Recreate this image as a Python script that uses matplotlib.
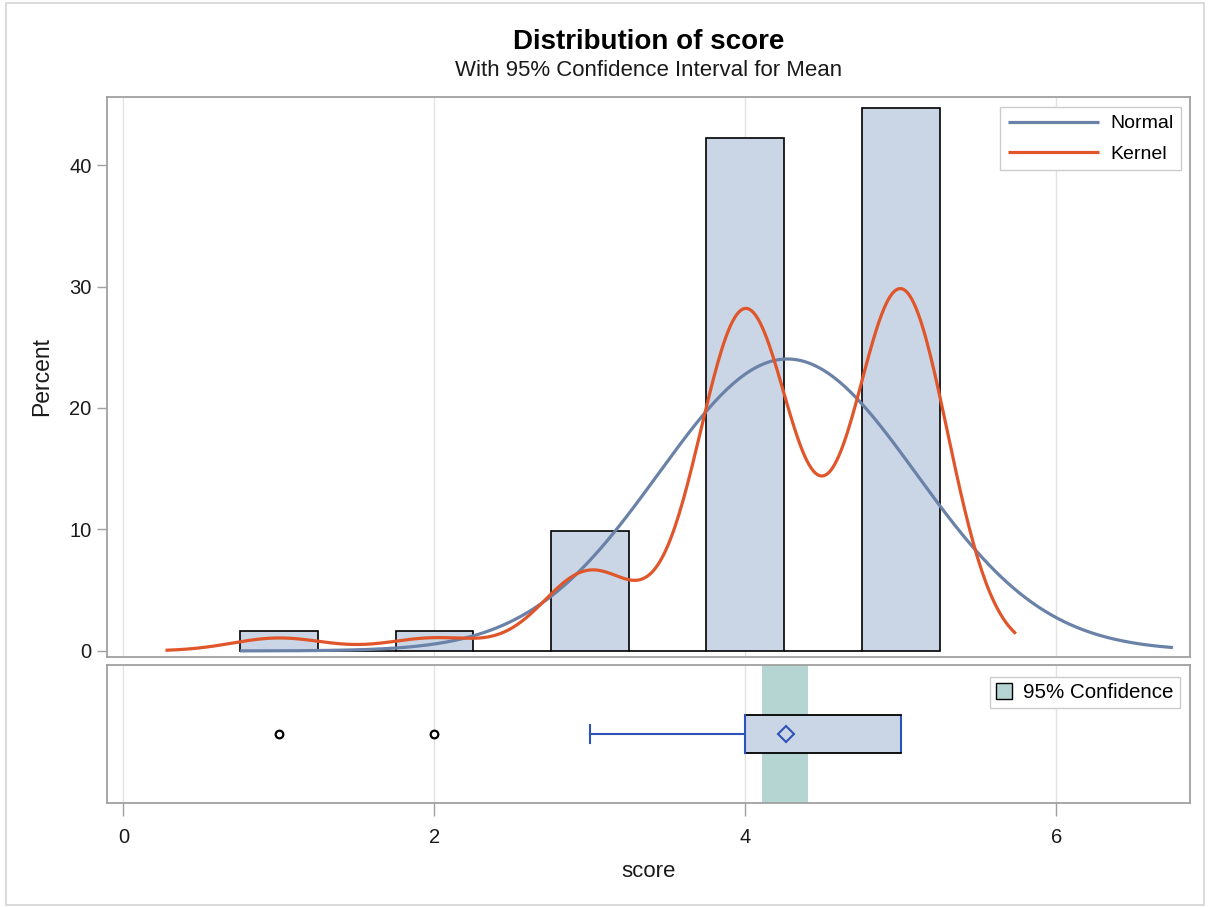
import matplotlib
matplotlib.use("Agg")
import matplotlib.pyplot as plt
from matplotlib.patches import Patch, Rectangle
import numpy as np

plt.rcParams["font.family"] = ["Liberation Sans", "DejaVu Sans"]

# histogram bins (width 0.5, centred on the scores; in-between bins are empty)
BIN_MIDPOINTS = [1.0, 1.5, 2.0, 2.5, 3.0, 3.5, 4.0, 4.5, 5.0]
BIN_PERCENTS = [1.6, 0.0, 1.6, 0.0, 9.85, 0.0, 42.2, 0.0, 44.7]
BIN_WIDTH = 0.5

# fitted curves
NORMAL_MEAN = 4.27
NORMAL_STD = 0.83
NORMAL_RANGE = (0.75, 6.75)
KERNEL_BANDWIDTH = 0.30
KERNEL_RANGE = (0.27, 5.74)

# box plot summary
BOX_Q1 = 4.0
BOX_MEDIAN = 4.0
BOX_Q3 = 5.0
WHISKER_LOW = 3.0
WHISKER_HIGH = 5.0
OUTLIERS = [1.0, 2.0]
SCORE_MEAN = 4.26
MEAN_CI = (4.11, 4.40)

X_TICKS = [0, 2, 4, 6]
Y_TICKS = [0, 10, 20, 30, 40]

BAR_FILL = "#cad5e5"
NORMAL_COLOR = "#6a82a8"
KERNEL_COLOR = "#e0562a"
CI_COLOR = "#b4d5d1"
BOX_LINE = "#2d52b8"
FRAME = "#a0a0a0"
GRID = "#e2e2e2"
TEXT = "#1a1a1a"


def style_frame(ax):
    for spine in ax.spines.values():
        spine.set_color(FRAME)
        spine.set_linewidth(1.3)
    ax.set_xlim(-0.106, 6.86)
    for x in X_TICKS:
        ax.axvline(x, color=GRID, lw=1.0, zorder=0)


fig = plt.figure(figsize=(12.09, 9.07), dpi=100)
fig.patches.append(Rectangle((6 / 1209, 2 / 907), 1198 / 1209, 902 / 907,
                             transform=fig.transFigure, fill=False,
                             edgecolor="#d4d4d4", lw=1.2))

ax = fig.add_axes([107 / 1209, 250 / 907, 1083 / 1209, 560 / 907])
box_ax = fig.add_axes([107 / 1209, 104 / 907, 1083 / 1209, 138 / 907])

# --- histogram panel ---
style_frame(ax)
ax.bar(BIN_MIDPOINTS, BIN_PERCENTS, width=BIN_WIDTH, color=BAR_FILL,
       edgecolor="black", linewidth=1.2, zorder=2)

xn = np.linspace(*NORMAL_RANGE, 300)
normal_pct = 100 * BIN_WIDTH * np.exp(-0.5 * ((xn - NORMAL_MEAN) / NORMAL_STD) ** 2) \
    / (NORMAL_STD * np.sqrt(2 * np.pi))
ax.plot(xn, normal_pct, color=NORMAL_COLOR, lw=2.3, zorder=3,
        label="Normal", solid_capstyle="butt")

mids = np.array(BIN_MIDPOINTS)
pcts = np.array(BIN_PERCENTS)
xk = np.linspace(*KERNEL_RANGE, 400)
z = (xk[:, None] - mids[None, :]) / KERNEL_BANDWIDTH
kernel_pct = (pcts[None, :] * BIN_WIDTH * np.exp(-0.5 * z ** 2)
              / (KERNEL_BANDWIDTH * np.sqrt(2 * np.pi))).sum(axis=1)
ax.plot(xk, kernel_pct, color=KERNEL_COLOR, lw=2.3, zorder=4,
        label="Kernel", solid_capstyle="butt")

ax.set_ylim(-0.5, 45.6)
ax.set_yticks(Y_TICKS)
ax.set_xticks([])
ax.tick_params(axis="y", direction="out", length=7, width=1.0, color=FRAME,
               labelsize=14.5, labelcolor=TEXT, pad=4)
ax.set_ylabel("Percent", fontsize=16.5, color=TEXT, labelpad=12)

leg = ax.legend(loc="upper right", fontsize=14, handlelength=4.7,
                handletextpad=0.57, borderpad=0.4, labelspacing=0.65,
                borderaxespad=0, fancybox=False, framealpha=1,
                bbox_to_anchor=(0.9917, 0.982))
leg.get_frame().set_edgecolor("#cccccc")
leg.get_frame().set_linewidth(1.0)

# --- box plot panel ---
style_frame(box_ax)
box_ax.set_ylim(0, 1)
box_ax.axvspan(*MEAN_CI, color=CI_COLOR, lw=0, zorder=1)

yc, h = 0.5, 0.28
box_ax.add_patch(Rectangle((BOX_Q1, yc - h / 2), BOX_Q3 - BOX_Q1, h,
                           facecolor=BAR_FILL, edgecolor="black", lw=1.3,
                           zorder=3))
box_ax.plot([BOX_MEDIAN, BOX_MEDIAN], [yc - h / 2, yc + h / 2],
            color=BOX_LINE, lw=1.5, zorder=4)
box_ax.plot([BOX_Q3, BOX_Q3], [yc - h / 2 + 0.02, yc + h / 2 - 0.02],
            color=BOX_LINE, lw=1.5, zorder=4)
box_ax.plot([WHISKER_LOW, BOX_Q1], [yc, yc], color=BOX_LINE, lw=1.5, zorder=2)
box_ax.plot([WHISKER_LOW, WHISKER_LOW], [yc - 0.065, yc + 0.065],
            color=BOX_LINE, lw=1.5, zorder=2)
if WHISKER_HIGH > BOX_Q3:
    box_ax.plot([BOX_Q3, WHISKER_HIGH], [yc, yc], color=BOX_LINE, lw=1.5)
box_ax.plot([SCORE_MEAN], [yc], marker="D", ms=8, mfc="none", mec=BOX_LINE,
            mew=1.5, zorder=5)
box_ax.plot(OUTLIERS, [yc] * len(OUTLIERS), ls="none", marker="o", ms=5.5,
            mfc="white", mec="black", mew=1.6, zorder=5)

box_ax.set_yticks([])
box_ax.set_xticks(X_TICKS)
box_ax.tick_params(axis="x", direction="out", length=9, width=1.0,
                   color=FRAME, labelsize=14.5, labelcolor=TEXT, pad=9)
box_ax.set_xlabel("score", fontsize=16, color=TEXT, labelpad=10)

ci_leg = box_ax.legend(handles=[Patch(facecolor=CI_COLOR, edgecolor="black",
                                      lw=1.0, label="95% Confidence")],
                       loc="upper right", fontsize=14.8, handlelength=0.8,
                       handleheight=0.8, handletextpad=0.55, borderpad=0.3,
                       borderaxespad=0, fancybox=False, framealpha=1,
                       bbox_to_anchor=(0.9908, 0.913))
ci_leg.get_frame().set_edgecolor("#cccccc")
ci_leg.get_frame().set_linewidth(1.0)

title_x = (107 + 1083 / 2) / 1209
fig.text(title_x, 1 - 42 / 907, "Distribution of score", ha="center",
         va="center", fontsize=20, fontweight="bold", color="black")
fig.text(title_x, 1 - 71 / 907, "With 95% Confidence Interval for Mean",
         ha="center", va="center", fontsize=16, color=TEXT)

fig.savefig("out.png", dpi=100)
